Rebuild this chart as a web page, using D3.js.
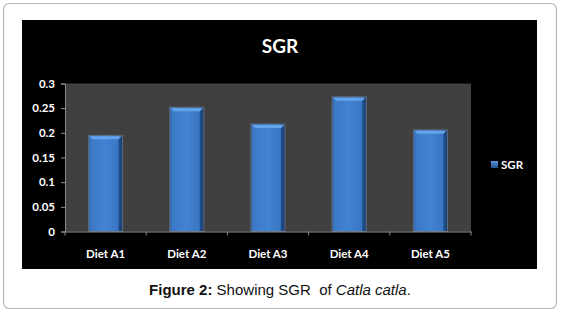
<!DOCTYPE html>
<html>
<head>
<meta charset="utf-8">
<script src="https://cdn.jsdelivr.net/npm/d3@7"></script>
<style>
  body { margin: 0; background: #fff; }
</style>
</head>
<body>
<script>
// data
const categories = ["Diet A1", "Diet A2", "Diet A3", "Diet A4", "Diet A5"];
const sgrValues = [0.195, 0.252, 0.218, 0.273, 0.206];
const yTicks = [0, 0.05, 0.1, 0.15, 0.2, 0.25, 0.3];
const seriesName = "SGR";

const W = 562, H = 314;

const svg = d3.select("body")
  .append("svg")
  .attr("width", W)
  .attr("height", H);

// outer frame
svg.append("rect")
  .attr("x", 3.5).attr("y", 3.5)
  .attr("width", 553).attr("height", 305)
  .attr("rx", 6)
  .attr("fill", "#fff")
  .attr("stroke", "#b8b8b8")
  .attr("stroke-width", 1.2);

// black chart area
svg.append("rect")
  .attr("x", 22).attr("y", 20)
  .attr("width", 515).attr("height", 249)
  .attr("fill", "#000");

const plot = { left: 65, right: 471, top: 83.5, bottom: 231.5 };

const x = d3.scaleBand()
  .domain(categories)
  .range([plot.left, plot.right])
  .paddingInner(0.58)
  .paddingOuter(0.29);

const y = d3.scaleLinear()
  .domain([0, 0.3])
  .range([plot.bottom, plot.top]);

// gradients for the bevelled bars
const defs = svg.append("defs");
const g1 = defs.append("linearGradient").attr("id", "barGrad")
  .attr("x1", "0%").attr("x2", "100%").attr("y1", "0%").attr("y2", "0%");
g1.append("stop").attr("offset", "0%").attr("stop-color", "#2f65a8");
g1.append("stop").attr("offset", "8%").attr("stop-color", "#3c7ac8");
g1.append("stop").attr("offset", "50%").attr("stop-color", "#4283d3");
g1.append("stop").attr("offset", "86%").attr("stop-color", "#3a76c2");
g1.append("stop").attr("offset", "90%").attr("stop-color", "#1f4d8a");
g1.append("stop").attr("offset", "100%").attr("stop-color", "#1b3f72");

const g2 = defs.append("linearGradient").attr("id", "legGrad")
  .attr("x1", "0%").attr("x2", "0%").attr("y1", "0%").attr("y2", "100%");
g2.append("stop").attr("offset", "0%").attr("stop-color", "#5a97e0");
g2.append("stop").attr("offset", "100%").attr("stop-color", "#1f4d8a");

// plot background
svg.append("rect")
  .attr("x", plot.left).attr("y", plot.top)
  .attr("width", plot.right - plot.left)
  .attr("height", plot.bottom - plot.top)
  .attr("fill", "#404040");

// title
svg.append("text")
  .attr("x", 280).attr("y", 53)
  .attr("text-anchor", "middle")
  .attr("font-family", "Lato, 'Open Sans', sans-serif")
  .attr("font-weight", "bold")
  .attr("font-size", "19px")
  .attr("fill", "#fff")
  .text("SGR");

// bars
const bars = svg.selectAll(".bar")
  .data(categories)
  .enter()
  .append("g")
  .attr("class", "bar");

bars.append("rect")
  .attr("x", d => x(d))
  .attr("y", (d, i) => y(sgrValues[i]))
  .attr("width", x.bandwidth())
  .attr("height", (d, i) => y(0) - y(sgrValues[i]))
  .attr("fill", "url(#barGrad)")
  .attr("stroke", "#5d6b7c")
  .attr("stroke-width", 1);

// light bevel on top
bars.append("path")
  .attr("d", (d, i) => {
    const x0 = x(d) + 1, x1 = x(d) + x.bandwidth() - 1, yt = y(sgrValues[i]) + 1;
    return `M${x0},${yt}L${x1},${yt}L${x1 - 3},${yt + 3}L${x0 + 3},${yt + 3}Z`;
  })
  .attr("fill", "#64a4ec");

// y axis
const yAxis = svg.append("g")
  .attr("transform", `translate(${plot.left},0)`)
  .call(d3.axisLeft(y).tickValues(yTicks).tickSize(4).tickFormat(d3.format("")));

// x axis
const xAxis = svg.append("g")
  .attr("transform", `translate(0,${plot.bottom})`)
  .call(d3.axisBottom(x).tickSize(0).tickPadding(18));

// x ticks at category boundaries
const bounds = d3.range(categories.length + 1).map(i => plot.left + i * (plot.right - plot.left) / categories.length);
xAxis.selectAll(".bound")
  .data(bounds)
  .enter()
  .append("line")
  .attr("x1", d => d).attr("x2", d => d)
  .attr("y1", 0).attr("y2", 4)
  .attr("stroke", "#8c8c8c");

[yAxis, xAxis].forEach(a => {
  a.selectAll(".domain").attr("stroke", "#8c8c8c");
  a.selectAll(".tick line").attr("stroke", "#8c8c8c");
  a.selectAll("text")
    .attr("fill", "#fff")
    .attr("font-family", "Lato, 'Open Sans', sans-serif")
    .attr("font-weight", "bold")
    .attr("font-size", "11.5px");
});
yAxis.selectAll("text").attr("x", -10);

// legend
svg.append("rect")
  .attr("x", 491).attr("y", 161)
  .attr("width", 7).attr("height", 7)
  .attr("fill", "url(#legGrad)");
svg.append("text")
  .attr("x", 501).attr("y", 169)
  .attr("font-family", "Lato, 'Open Sans', sans-serif")
  .attr("font-weight", "bold")
  .attr("font-size", "11.5px")
  .attr("fill", "#fff")
  .text(seriesName);

// caption
const cap = svg.append("text")
  .attr("x", 280).attr("y", 295)
  .attr("text-anchor", "middle")
  .attr("font-family", "'Liberation Sans', Arial, sans-serif")
  .attr("font-size", "15px")
  .attr("fill", "#111");
cap.append("tspan").attr("font-weight", "bold").text("Figure 2:");
cap.append("tspan").text(" Showing SGR \u00a0of ");
cap.append("tspan").attr("font-style", "italic").text("Catla catla");
cap.append("tspan").text(".");
</script>
</body>
</html>
